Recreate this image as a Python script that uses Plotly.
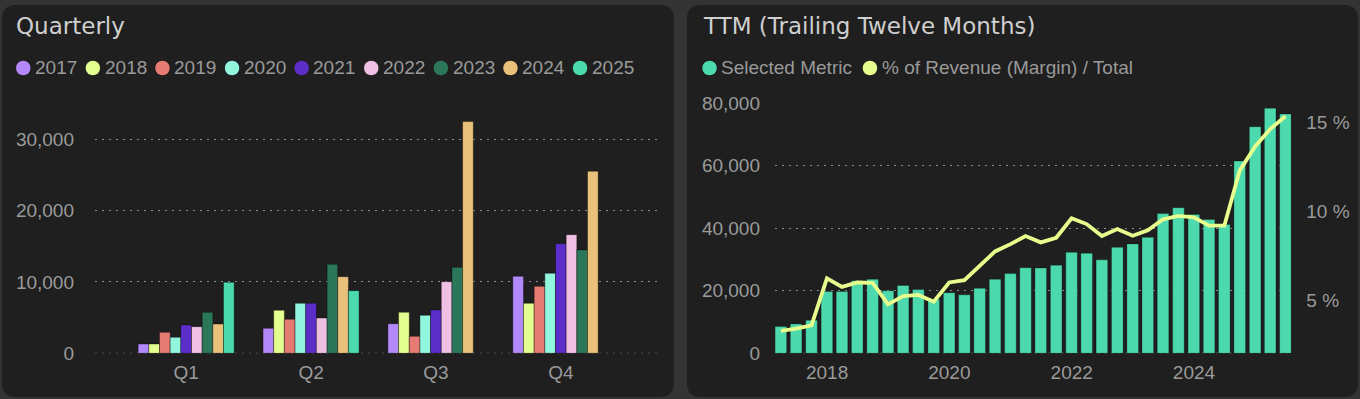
import plotly.graph_objects as go

W, H = 1360, 399

# ---------------- data: Quarterly ----------------
quarters = ["Q1", "Q2", "Q3", "Q4"]
years = ["2017", "2018", "2019", "2020", "2021", "2022", "2023", "2024", "2025"]
year_colors = ["#b388f9", "#e3ff8f", "#e57b72", "#92f5dd", "#5b2ec9",
               "#efc0e2", "#2c765a", "#e9c17a", "#4bd9ad"]
v2017 = [1300, 3500, 4150, 10780]
v2018 = [1300, 6020, 5740, 7000]
v2019 = [2940, 4760, 2380, 9380]
v2020 = [2240, 7000, 5320, 11200]
v2021 = [3960, 7000, 6060, 15350]
v2022 = [3730, 4940, 10030, 16610]
v2023 = [5740, 12460, 12040, 14470]
v2024 = [4100, 10730, 32440, 25490]
v2025 = [9940, 8770, None, None]
quarterly_values = [v2017, v2018, v2019, v2020, v2021, v2022, v2023, v2024, v2025]
q_yticks = [0, 10000, 20000, 30000]

# ---------------- data: TTM ----------------
ttm_dates = ["2017-03-31", "2017-06-30", "2017-09-30", "2017-12-31",
             "2018-03-31", "2018-06-30", "2018-09-30", "2018-12-31",
             "2019-03-31", "2019-06-30", "2019-09-30", "2019-12-31",
             "2020-03-31", "2020-06-30", "2020-09-30", "2020-12-31",
             "2021-03-31", "2021-06-30", "2021-09-30", "2021-12-31",
             "2022-03-31", "2022-06-30", "2022-09-30", "2022-12-31",
             "2023-03-31", "2023-06-30", "2023-09-30", "2023-12-31",
             "2024-03-31", "2024-06-30", "2024-09-30", "2024-12-31",
             "2025-03-31", "2025-06-30"]
ttm_values = [8560, 9400, 10600, 19800, 19800, 23200, 23700, 20000, 21700, 20400,
              17200, 19400, 18700, 20800, 23700, 25500, 27400, 27300, 28200, 32300,
              32000, 29900, 33900, 35000, 37100, 44700, 46600, 44400, 42800, 41200,
              61500, 72500, 78400, 76600]
margin_pct = [3.27, 3.40, 3.59, 6.23, 5.75, 6.00, 5.98, 4.77, 5.23, 5.30,
              4.92, 6.00, 6.13, 6.92, 7.75, 8.16, 8.62, 8.26, 8.52, 9.62,
              9.29, 8.62, 9.01, 8.63, 8.94, 9.56, 9.75, 9.67, 9.20, 9.20,
              12.30, 13.66, 14.64, 15.36]
ttm_names = ["Selected Metric", "% of Revenue (Margin) / Total"]
ttm_colors = ["#4bd9ad", "#e6fc8c"]
ttm_yticks = [0, 20000, 40000, 60000, 80000]
pct_ticks = [5, 10, 15]
pct_labels = [f"{v} %" for v in pct_ticks]

# ---------------- style ----------------
PAGE_BG = "#343434"
PANEL_BG = "#1f1f1f"
TICK_FONT = dict(family="Liberation Sans, Arial, sans-serif", size=19, color="#9a9a9a")
TITLE_FONT = dict(family="DejaVu Sans, sans-serif", size=23, color="#cfcfcf")
GRID_COLOR = "#8a8a8a"
GRID_DASH = "2px,5px"
GRID = dict(showgrid=True, gridcolor=GRID_COLOR, griddash=GRID_DASH, gridwidth=1)


def fx(p):
    return p / W


def fy(p):
    return 1 - p / H


fig = go.Figure()

for name, vals, col in zip(years, quarterly_values, year_colors):
    fig.add_trace(go.Bar(x=quarters, y=vals, name=name, marker_color=col,
                         marker_line=dict(color="rgba(0,0,0,0.35)", width=1),
                         xaxis="x", yaxis="y", showlegend=False))

fig.add_trace(go.Bar(x=ttm_dates, y=ttm_values, name=ttm_names[0], marker_color=ttm_colors[0],
                     marker_line=dict(color="rgba(0,0,0,0.25)", width=1),
                     xaxis="x2", yaxis="y2", showlegend=False))
fig.add_trace(go.Scatter(x=ttm_dates, y=margin_pct, name=ttm_names[1], mode="lines",
                         line=dict(color=ttm_colors[1], width=3.8),
                         xaxis="x2", yaxis="y3", showlegend=False))

ydom = [fy(353.3), fy(103.3)]

fig.update_layout(
    width=W, height=H, autosize=False,
    margin=dict(l=0, r=0, t=0, b=0, pad=0, autoexpand=False),
    paper_bgcolor=PAGE_BG, plot_bgcolor="rgba(0,0,0,0)",
    barmode="group", bargap=0.231, bargroupgap=0,
    hovermode=False, showlegend=False,
    xaxis=dict(domain=[fx(95), fx(657)], range=[-0.730, 3.770], showgrid=False,
               zeroline=False, showline=False, ticks="", tickfont=TICK_FONT,
               ticklabelstandoff=6, automargin=False),
    yaxis=dict(domain=ydom, range=[0, 35000], tickvals=q_yticks, tickformat=",d",
               zeroline=False, showline=False, ticks="", tickfont=TICK_FONT,
               ticklabelstandoff=20, anchor="x", automargin=False, **GRID),
    xaxis2=dict(domain=[fx(775), fx(1291.3)], type="date",
                range=["2017-02-24", "2025-08-04"], tick0="2018-01-01", dtick="M24",
                tickformat="%Y", showgrid=False, zeroline=False, showline=False,
                ticks="", tickfont=TICK_FONT, ticklabelstandoff=6, anchor="y2",
                automargin=False),
    yaxis2=dict(domain=ydom, range=[0, 80000], tickvals=ttm_yticks, tickformat=",d",
                zeroline=False, showline=False, ticks="", tickfont=TICK_FONT,
                ticklabelstandoff=14, anchor="x2", automargin=False, **GRID),
    yaxis3=dict(overlaying="y2", side="right", anchor="x2", range=[2.011, 16.094],
                tickmode="array", tickvals=pct_ticks, ticktext=pct_labels,
                showgrid=False, zeroline=False,
                showline=False, ticks="", tickfont=TICK_FONT, ticklabelstandoff=14,
                automargin=False),
)


def rounded_panel(x0, y0, x1, y1, r):
    pts = (f"M {fx(x0 + r)} {fy(y0)} L {fx(x1 - r)} {fy(y0)} "
           f"Q {fx(x1)} {fy(y0)} {fx(x1)} {fy(y0 + r)} "
           f"L {fx(x1)} {fy(y1 - r)} Q {fx(x1)} {fy(y1)} {fx(x1 - r)} {fy(y1)} "
           f"L {fx(x0 + r)} {fy(y1)} Q {fx(x0)} {fy(y1)} {fx(x0)} {fy(y1 - r)} "
           f"L {fx(x0)} {fy(y0 + r)} Q {fx(x0)} {fy(y0)} {fx(x0 + r)} {fy(y0)} Z")
    return dict(type="path", xref="paper", yref="paper", path=pts,
                fillcolor=PANEL_BG, line=dict(width=0), layer="below")


shapes = [rounded_panel(2, 5, 674, 397, 14), rounded_panel(687, 5, 1358, 397, 14)]

# dotted baseline at value 0 (plotly drops the grid line lying on the range edge)
for xr, yr in (("x domain", "y"), ("x2 domain", "y2")):
    shapes.append(dict(type="line", xref=xr, yref=yr, x0=0, x1=1, y0=0, y1=0,
                       line=dict(color=GRID_COLOR, width=1, dash=GRID_DASH), layer="below"))

annotations = []

# titles
annotations.append(dict(text="Quarterly", x=fx(14), y=fy(26), xref="paper", yref="paper",
                        xanchor="left", yanchor="middle", showarrow=False, font=TITLE_FONT))
annotations.append(dict(text="TTM (Trailing Twelve Months)", x=fx(701), y=fy(26),
                        xref="paper", yref="paper", xanchor="left", yanchor="middle",
                        showarrow=False, font=TITLE_FONT))

LEG_FONT = dict(family="Liberation Sans, Arial, sans-serif", size=19, color="#9a9a9a")
LEG_Y = 68
MARK = 14.5


def legend_item(left, label, color):
    shapes.append(dict(type="circle", xref="paper", yref="paper",
                       x0=fx(left), x1=fx(left + MARK),
                       y0=fy(LEG_Y + MARK / 2), y1=fy(LEG_Y - MARK / 2),
                       fillcolor=color, line=dict(width=0)))
    annotations.append(dict(text=label, x=fx(left + MARK + 2.5), y=fy(LEG_Y - 0.5),
                            xref="paper", yref="paper", xanchor="left", yanchor="middle",
                            showarrow=False, font=LEG_FONT))


for i, (name, col) in enumerate(zip(years, year_colors)):
    legend_item(16 + i * 69.6, name, col)

legend_item(702.3, ttm_names[0], ttm_colors[0])
legend_item(862.7, ttm_names[1], ttm_colors[1])

fig.update_layout(shapes=shapes, annotations=annotations)

fig.write_html(
    "out.html",
    config={"responsive": False, "displayModeBar": False},
    post_script=("document.body.style.margin='0';"
                 "document.body.style.overflow='hidden';"),
)
